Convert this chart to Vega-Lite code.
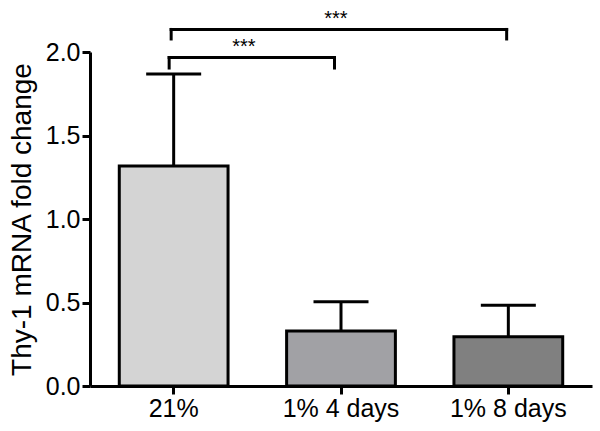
{
  "$schema": "https://vega.github.io/schema/vega-lite/v6.json",
  "autosize": "none",
  "padding": {"left": 90, "top": 52, "right": 8, "bottom": 45},
  "width": 502,
  "height": 334,
  "background": "white",
  "config": {
    "view": {"stroke": null},
    "font": "Liberation Sans",
    "axis": {
      "labelFontSize": 25, "labelColor": "black", "labelFont": "Liberation Sans",
      "titleFontSize": 28, "titleFontWeight": "normal", "titleColor": "black", "titleFont": "Liberation Sans",
      "domainColor": "black", "domainWidth": 3, "tickColor": "black", "tickWidth": 3,
      "tickSize": 8, "labelPadding": 2, "grid": false
    }
  },
  "datasets": {
    "bars": [
      {"group": "21%", "mean": 1.317, "upper": 1.868},
      {"group": "1% 4 days", "mean": 0.329, "upper": 0.504},
      {"group": "1% 8 days", "mean": 0.295, "upper": 0.483}
    ],
    "brackets": [
      {"x1": -0.015, "x2": 1.99, "y1": 2.135, "y2": 2.135},
      {"x1": -0.015, "x2": -0.015, "y1": 2.135, "y2": 2.078},
      {"x1": 1.99, "x2": 1.99, "y1": 2.135, "y2": 2.078},
      {"x1": -0.027, "x2": 0.961, "y1": 1.967, "y2": 1.967},
      {"x1": -0.027, "x2": -0.027, "y1": 1.967, "y2": 1.904},
      {"x1": 0.961, "x2": 0.961, "y1": 1.967, "y2": 1.904}
    ],
    "stars": [
      {"x": 0.97, "y": 2.2, "label": "***"},
      {"x": 0.42, "y": 2.03, "label": "***"}
    ]
  },
  "layer": [
    {
      "data": {"name": "bars"},
      "encoding": {
        "x": {
          "field": "group", "type": "nominal", "sort": ["21%", "1% 4 days", "1% 8 days"],
          "scale": {"paddingInner": 0, "paddingOuter": 0},
          "axis": {"title": null, "labelAngle": 0}
        }
      },
      "layer": [
        {
          "mark": {"type": "bar", "width": {"band": 0.65}, "stroke": "black", "strokeWidth": 3, "opacity": 1},
          "encoding": {
            "y": {
              "field": "mean", "type": "quantitative",
              "scale": {"domain": [0, 2], "nice": false, "zero": true},
              "axis": {
                "title": "Thy-1 mRNA fold change", "values": [0, 0.5, 1, 1.5, 2], "format": ".1f",
                "titlePadding": 9
              }
            },
            "fill": {
              "field": "group", "type": "nominal",
              "scale": {"domain": ["21%", "1% 4 days", "1% 8 days"], "range": ["#d4d4d4", "#a1a1a5", "#808080"]},
              "legend": null
            }
          }
        },
        {
          "mark": {"type": "rule", "color": "black", "strokeWidth": 3},
          "encoding": {
            "y": {"field": "mean", "type": "quantitative"},
            "y2": {"field": "upper"}
          }
        },
        {
          "mark": {"type": "tick", "orient": "horizontal", "color": "black", "size": 55, "thickness": 3, "opacity": 1},
          "encoding": {
            "y": {"field": "upper", "type": "quantitative"}
          }
        }
      ]
    },
    {
      "layer": [
        {
          "data": {"name": "brackets"},
          "mark": {"type": "rule", "color": "black", "strokeWidth": 3, "strokeCap": "square"},
          "encoding": {
            "x": {"field": "x1", "type": "quantitative", "scale": {"domain": [-0.5, 2.5], "nice": false, "zero": false}, "axis": null},
            "x2": {"field": "x2"},
            "y": {"field": "y1", "type": "quantitative"},
            "y2": {"field": "y2"}
          }
        },
        {
          "data": {"name": "stars"},
          "mark": {"type": "text", "fontSize": 20, "color": "black", "baseline": "middle", "align": "center", "font": "Liberation Sans"},
          "encoding": {
            "x": {"field": "x", "type": "quantitative", "scale": {"domain": [-0.5, 2.5], "nice": false, "zero": false}, "axis": null},
            "y": {"field": "y", "type": "quantitative"},
            "text": {"field": "label"}
          }
        }
      ]
    }
  ],
  "resolve": {"scale": {"x": "independent"}}
}
